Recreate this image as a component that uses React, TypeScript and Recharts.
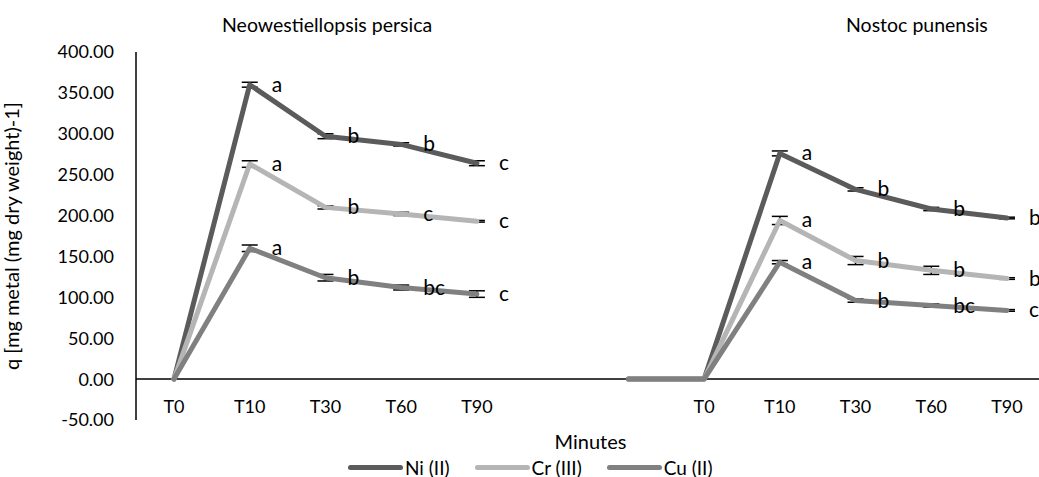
import { LineChart, Line, XAxis, YAxis, ErrorBar, LabelList, Legend, ReferenceLine } from 'recharts';

const categories = ['T0', 'T10', 'T30', 'T60', 'T90', '', '', 'T0', 'T10', 'T30', 'T60', 'T90'];

const niValues = [0, 360, 297, 287, 264, null, 0, 0, 276, 232, 208, 197];
const crValues = [0, 263, 210, 202, 193, null, 0, 0, 194, 145, 133, 123];
const cuValues = [0, 160, 124, 112, 104, null, 0, 0, 143, 96, 90, 84];

const niErrors = [0, 3, 3, 2, 3, 0, 0, 0, 3, 2, 2, 1];
const crErrors = [0, 4, 2, 2, 1, 0, 0, 0, 5, 5, 5, 1];
const cuErrors = [0, 4, 4, 3, 4, 0, 0, 0, 2, 2, 2, 1];

const niLetters = ['', 'a', 'b', 'b', 'c', '', '', '', 'a', 'b', 'b', 'b'];
const crLetters = ['', 'a', 'b', 'c', 'c', '', '', '', 'a', 'b', 'b', 'b'];
const cuLetters = ['', 'a', 'b', 'bc', 'c', '', '', '', 'a', 'b', 'bc', 'c'];

const yTicks = [-50, 0, 50, 100, 150, 200, 250, 300, 350, 400];

const seriesInfo = [
  { key: 'ni', name: 'Ni (II)', color: '#5b5b5b' },
  { key: 'cr', name: 'Cr (III)', color: '#b5b5b5' },
  { key: 'cu', name: 'Cu (II)', color: '#808080' },
];

const data = categories.map((cat, i) => ({
  idx: i,
  cat,
  ni: niValues[i],
  niErr: niErrors[i],
  niLbl: niLetters[i],
  cr: crValues[i],
  crErr: crErrors[i],
  crLbl: crLetters[i],
  cu: cuValues[i],
  cuErr: cuErrors[i],
  cuLbl: cuLetters[i],
}));

const FONT = 'Lato, "Noto Sans", sans-serif';

// letra de significancia ao lado de cada ponto
const renderLetter = (props: any) => {
  const { x, y, value } = props;
  if (!value) return null;
  return (
    <text x={x + 22} y={y + 7} fontSize={21} fontFamily={FONT} fill="#000" textAnchor="start">
      {value}
    </text>
  );
};

const XTick = (props: any) => {
  const { x, y, payload } = props;
  return (
    <text x={x} y={y - 7} textAnchor="middle" fontSize={18} fontFamily={FONT} fill="#000">
      {categories[payload.value]}
    </text>
  );
};

const LegendContent = () => (
  <div style={{ display: 'flex', alignItems: 'center', paddingLeft: 348, fontFamily: FONT, fontSize: 19, height: 20 }}>
    {seriesInfo.map((s) => (
      <div key={s.key} style={{ display: 'flex', alignItems: 'center', marginRight: 25 }}>
        <div style={{ width: 55, height: 5, borderRadius: 3, background: s.color, marginRight: 2 }} />
        <span>{s.name}</span>
      </div>
    ))}
  </div>
);

export default function App() {
  return (
    <div style={{ position: 'absolute', left: 0, top: 0, width: 1039, height: 477, overflow: 'hidden', background: '#fff' }}>
      <div style={{ position: 'absolute', top: 13, left: 222, fontFamily: FONT, fontSize: 19.5 }}>Neowestiellopsis persica</div>
      <div style={{ position: 'absolute', top: 13, left: 846, fontFamily: FONT, fontSize: 19.5 }}>Nostoc punensis</div>
      <LineChart width={1045} height={477} data={data} margin={{ top: 52, right: 0, bottom: 0, left: 0 }}>
        <XAxis
          dataKey="idx"
          type="category"
          axisLine={false}
          tickLine={false}
          tickSize={0}
          tickMargin={0}
          height={37}
          padding={{ left: 38, right: 38 }}
          tick={<XTick />}
          interval={0}
          label={{ value: 'Minutes', position: 'insideBottom', offset: 8, fontSize: 20, fontFamily: FONT, fill: '#000' }}
        />
        <YAxis
          domain={[-50, 400]}
          ticks={yTicks}
          width={136}
          axisLine={{ stroke: '#000', strokeWidth: 1.5 }}
          tickLine={false}
          tickSize={6}
          tickMargin={16}
          tickFormatter={(v: number) => v.toFixed(2)}
          tick={{ fontSize: 18, fontFamily: FONT, fill: '#000' }}
          label={{
            value: 'q [mg metal (mg dry weight)-1]',
            angle: -90,
            position: 'insideLeft',
            offset: 12,
            style: { textAnchor: 'middle' },
            fontSize: 20,
            fontFamily: FONT,
            fill: '#000',
          }}
        />
        <ReferenceLine y={0} stroke="#000" strokeWidth={1.5} />
        <Legend verticalAlign="bottom" height={20} content={<LegendContent />} />
        {seriesInfo.map((s) => (
          <Line
            key={s.key}
            dataKey={s.key}
            name={s.name}
            stroke={s.color}
            strokeWidth={5}
            strokeLinecap="round"
            strokeLinejoin="round"
            dot={false}
            activeDot={false}
            type="linear"
            isAnimationActive={false}
          >
            <ErrorBar dataKey={`${s.key}Err`} width={8} stroke="#000" strokeWidth={1.5} />
            <LabelList dataKey={`${s.key}Lbl`} content={renderLetter} />
          </Line>
        ))}
      </LineChart>
    </div>
  );
}
